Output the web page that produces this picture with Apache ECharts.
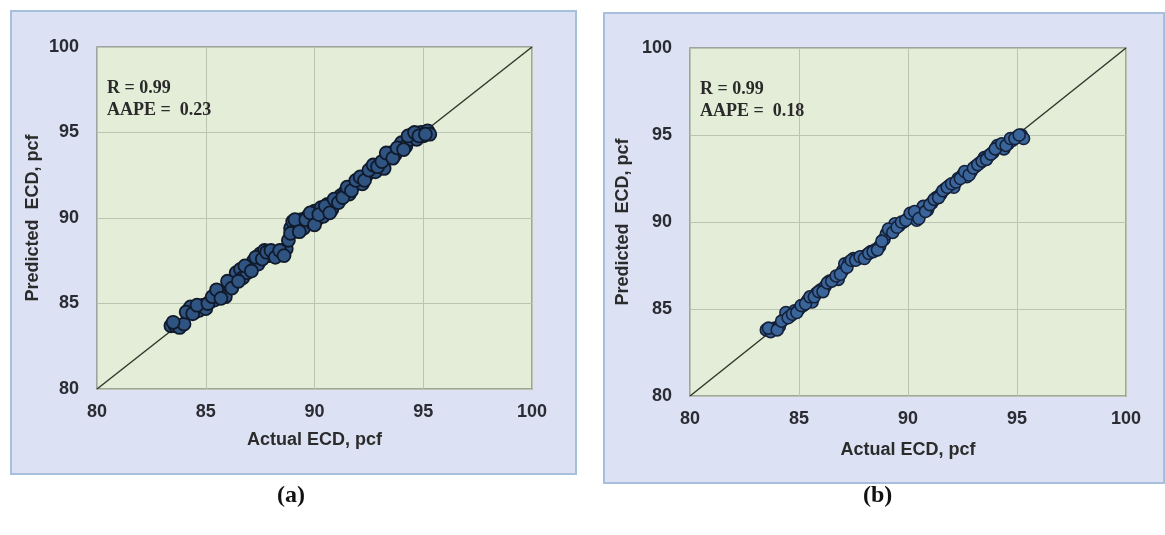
<!DOCTYPE html>
<html>
<head>
<meta charset="utf-8">
<script src="https://cdn.jsdelivr.net/npm/echarts@6/dist/echarts.min.js"></script>
<style>
html,body{margin:0;padding:0;background:#ffffff;}
#chart{width:1165px;height:535px;}
</style>
</head>
<body>
<div id="chart"></div>
<script>
// ---- data ----
const axisTicks = [80, 85, 90, 95, 100];
const perfectLine = [[80, 80], [100, 100]];

const actualA = [83.4,83.6,83.8,84.0,84.2,84.3,84.5,84.7,84.9,85.0,85.2,85.4,85.6,85.8,85.9,86.1,86.3,86.4,86.6,86.7,86.9,87.0,87.2,87.4,87.5,87.7,87.9,88.1,88.3,88.5,88.7,88.8,88.9,89.0,89.2,89.4,89.5,89.7,89.9,90.0,90.1,90.3,90.4,90.6,90.8,91.0,91.2,91.4,91.6,91.8,92.0,92.2,92.4,92.6,92.8,93.0,93.2,93.4,93.5,93.7,93.9,94.0,94.2,94.4,94.5,94.7,94.9,95.0,95.2,95.3,
  83.5,84.1,84.4,84.6,85.1,85.3,85.5,85.7,86.0,86.2,86.5,86.8,87.1,87.3,87.6,87.8,88.0,88.2,88.4,88.6,88.9,89.1,89.3,89.6,89.8,90.0,90.2,90.5,90.7,90.9,91.1,91.3,91.5,91.7,91.9,92.1,92.3,92.5,92.7,92.9,93.1,93.3,93.6,93.8,94.1,94.3,94.6,94.8,95.1];
const predictedA = [83.7,83.7,83.6,83.8,84.6,84.8,84.5,84.6,84.9,84.7,85.1,85.2,85.5,85.7,85.4,86.0,86.4,86.8,87.0,86.5,86.8,87.2,87.5,87.3,87.9,88.1,87.8,87.8,87.9,88.0,88.2,88.7,89.4,89.8,89.5,89.9,89.4,90.1,89.7,90.4,89.9,90.6,90.1,90.8,90.5,91.0,91.3,91.5,91.4,91.9,92.2,92.0,92.5,92.9,92.7,93.1,92.9,93.6,93.8,93.7,94.1,94.4,94.2,94.6,94.9,94.6,95.0,94.8,95.1,94.9,
  83.9,84.5,84.4,84.9,85.0,85.4,85.8,85.3,86.3,85.9,86.3,87.2,86.9,87.7,87.6,88.0,88.1,87.7,88.1,87.8,89.1,89.9,89.2,89.9,90.3,89.6,90.2,90.7,90.3,91.1,90.9,91.2,91.8,91.6,92.2,92.4,92.2,92.8,93.1,93.0,93.3,93.8,93.5,94.1,94.0,94.8,95.0,94.8,94.9];

const actualB = [83.5,83.7,83.9,84.1,84.3,84.4,84.6,84.8,85.0,85.2,85.4,85.6,85.8,86.0,86.2,86.4,86.6,86.8,87.0,87.1,87.3,87.5,87.7,87.9,88.1,88.3,88.5,88.7,88.9,89.0,89.2,89.4,89.6,89.8,90.0,90.2,90.4,90.6,90.7,90.9,91.1,91.3,91.5,91.7,91.9,92.1,92.3,92.5,92.7,92.9,93.1,93.3,93.5,93.7,93.9,94.1,94.2,94.4,94.6,94.8,95.0,95.2,95.3,
  83.6,84.0,84.2,84.5,84.7,84.9,85.1,85.3,85.5,85.7,85.9,86.1,86.3,86.5,86.7,86.9,87.2,87.4,87.6,87.8,88.0,88.2,88.4,88.6,88.8,89.1,89.3,89.5,89.7,89.9,90.1,90.3,90.5,90.8,91.0,91.2,91.4,91.6,91.8,92.0,92.2,92.4,92.6,92.8,93.0,93.2,93.4,93.6,93.8,94.0,94.3,94.5,94.7,94.9,95.1];
const predictedB = [83.8,83.7,83.9,84.0,84.4,84.8,84.6,84.9,85.0,85.2,85.5,85.4,85.9,86.1,86.3,86.6,86.7,86.7,87.2,87.6,87.7,87.9,87.9,88.0,88.1,88.3,88.4,88.6,89.0,89.3,89.5,89.9,89.8,90.0,90.2,90.3,90.1,90.5,90.9,90.7,91.1,91.4,91.6,91.9,92.1,92.0,92.5,92.7,92.6,92.9,93.2,93.4,93.7,93.8,94.0,94.4,94.3,94.2,94.5,94.7,94.9,95.0,94.8,
  83.9,83.8,84.3,84.5,84.7,84.8,85.2,85.3,85.7,85.7,86.0,86.0,86.5,86.6,86.9,87.0,87.4,87.8,87.8,88.0,87.9,88.2,88.3,88.4,88.9,89.6,89.4,89.7,90.0,90.1,90.5,90.6,90.2,90.6,91.0,91.3,91.4,91.8,92.0,92.2,92.3,92.5,92.9,92.7,93.1,93.3,93.5,93.6,93.9,94.2,94.5,94.4,94.8,94.8,95.0];

const statsA = ['R = 0.99', 'AAPE =  0.23'];
const statsB = ['R = 0.99', 'AAPE =  0.18'];
const panelLabels = ['(a)', '(b)'];
const xTitle = 'Actual ECD, pcf';
const yTitle = 'Predicted  ECD, pcf';

function pairs(xs, ys) { return xs.map((x, i) => [x, ys[i]]); }

const chart = echarts.init(document.getElementById('chart'));

const gridStyle = {
  show: true, backgroundColor: '#e4edd8', borderColor: '#8a8f88', borderWidth: 1.5, containLabel: false
};
function xAx(idx, gap) {
  return {
    gridIndex: idx, type: 'value', min: 80, max: 100, interval: 5,
    name: xTitle, nameLocation: 'middle', nameGap: gap,
    nameTextStyle: { fontFamily: 'Liberation Sans', fontWeight: 'bold', fontSize: 18, color: '#2b2b2b' },
    axisLine: { show: false }, axisTick: { show: false },
    axisLabel: { fontFamily: 'Liberation Sans', fontWeight: 'bold', fontSize: 18, color: '#2b2b33', margin: 14,
      formatter: v => axisTicks.includes(v) ? String(v) : '' },
    splitLine: { show: true, lineStyle: { color: '#b9c4b1', width: 1 } }
  };
}
function yAx(idx, gap) {
  return {
    gridIndex: idx, type: 'value', min: 80, max: 100, interval: 5,
    name: yTitle, nameLocation: 'middle', nameGap: gap, nameRotate: 90,
    nameTextStyle: { fontFamily: 'Liberation Sans', fontWeight: 'bold', fontSize: 18, color: '#2b2b2b' },
    axisLine: { show: false }, axisTick: { show: false },
    axisLabel: { fontFamily: 'Liberation Sans', fontWeight: 'bold', fontSize: 18, color: '#2b2b33', margin: 18,
      formatter: v => axisTicks.includes(v) ? String(v) : '' },
    splitLine: { show: true, lineStyle: { color: '#b9c4b1', width: 1 } }
  };
}
const markerStyleA = { color: '#2f5482', borderColor: '#111a2b', borderWidth: 1.8, opacity: 1 };
const markerStyleB = { color: '#3a659a', borderColor: '#15213a', borderWidth: 1.6, opacity: 1 };

function statText(lines, x, y) {
  return lines.map((t, i) => ({
    type: 'text', left: x, top: y + i * 22, z: 100,
    style: { text: t, fontFamily: 'Liberation Serif', fontWeight: 'bold', fontSize: 18, fill: '#2a2a2a' }
  }));
}

chart.setOption({
  animation: false,
  backgroundColor: '#ffffff',
  graphic: [
    { type: 'rect', left: 10, top: 10, z: -10, shape: { width: 565, height: 463 },
      style: { fill: '#dce2f3', stroke: '#a6bfdc', lineWidth: 2 } },
    { type: 'rect', left: 603, top: 12, z: -10, shape: { width: 560, height: 470 },
      style: { fill: '#dce2f3', stroke: '#a6bfdc', lineWidth: 2 } },
    ...statText(statsA, 107, 79),
    ...statText(statsB, 700, 80),
    { type: 'text', left: 277, top: 484, style: { text: panelLabels[0], fontFamily: 'Liberation Serif', fontWeight: 'bold', fontSize: 24, fill: '#111' } },
    { type: 'text', left: 863, top: 484, style: { text: panelLabels[1], fontFamily: 'Liberation Serif', fontWeight: 'bold', fontSize: 24, fill: '#111' } }
  ],
  grid: [
    Object.assign({ left: 97, top: 47, width: 435, height: 342 }, gridStyle),
    Object.assign({ left: 690, top: 48, width: 436, height: 348 }, gridStyle)
  ],
  xAxis: [xAx(0, 42), xAx(1, 45)],
  yAxis: [yAx(0, 55), yAx(1, 58)],
  series: [
    { type: 'line', xAxisIndex: 0, yAxisIndex: 0, data: perfectLine, showSymbol: false,
      lineStyle: { color: '#2f3a2f', width: 1.5 }, z: 2 },
    { type: 'scatter', xAxisIndex: 0, yAxisIndex: 0, data: pairs(actualA, predictedA),
      symbolSize: 13, itemStyle: markerStyleA, z: 3 },
    { type: 'line', xAxisIndex: 1, yAxisIndex: 1, data: perfectLine, showSymbol: false,
      lineStyle: { color: '#2f3a2f', width: 1.5 }, z: 2 },
    { type: 'scatter', xAxisIndex: 1, yAxisIndex: 1, data: pairs(actualB, predictedB),
      symbolSize: 12, itemStyle: markerStyleB, z: 3 }
  ]
});
</script>
</body>
</html>
